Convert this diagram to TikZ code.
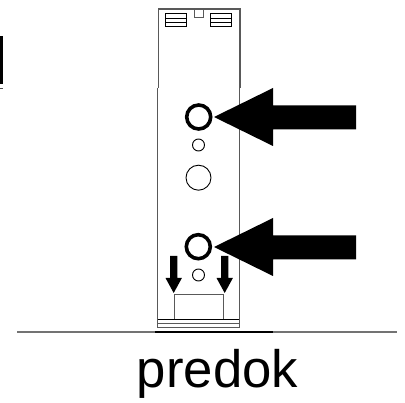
\documentclass[tikz,border=0pt]{standalone}
\usepackage{fontspec}
\setmainfont{Liberation Sans}
\tikzset{
    outline/.style={draw=black!65,line width=1.2pt},
    detail/.style={draw=black,line width=1pt},
    thinhole/.style={circle,draw=black,line width=0.9pt,fill=white,inner sep=0pt},
    thickhole/.style={circle,draw=black,line width=3.6pt,fill=white,inner sep=0pt},
    solidarrow/.style={fill=black,draw=none}
}
\begin{document}
\begin{tikzpicture}[x=1pt,y=-1pt]
        \useasboundingbox (0,0) rectangle (405,403);
        % upper part of the body
        \draw[outline] (158.5,88) -- (158.5,9) -- (240,9) -- (240,88);
        \draw[outline,line width=0.9pt] (194,10) -- (194,17) -- (203,17) -- (203,10);
        \foreach \x in {165.7,210} {
            \draw[detail] (\x,13.5) rectangle ++(21,13);
            \draw[detail,line width=0.7pt] (\x,18) -- ++(21,0) (\x,22) -- ++(21,0);
        }
        % lower part of the body
        \draw[outline] (157.7,88) -- (157.7,327.3) -- (239.3,327.3) -- (239.3,88);
        \draw[outline,line width=0.6pt] (157.7,323) -- (239.3,323);
        \draw[detail,line width=0.7pt] (157.7,319) -- (239.3,319);
        \draw[outline,line width=1pt] (174,319) -- (174,295) -- (223,295) -- (223,319);
        % holes
        \node[thickhole,minimum size=24pt] (upperring) at (198.7,117) {};
        \node[thinhole,minimum size=12pt] (uppersmall) at (198.5,145) {};
        \node[thinhole,minimum size=25pt] (middlehole) at (198.5,177.7) {};
        \node[thickhole,minimum size=24pt] (lowerring) at (198.3,246.7) {};
        \node[thinhole,minimum size=12pt] (lowersmall) at (198.5,275) {};
        % big arrows
        \foreach \y in {117,247} {
            \fill[solidarrow] (214,\y) -- (273,\y-29) -- (273,\y-11.5) -- (356,\y-11.5)
                -- (356,\y+12.5) -- (273,\y+12.5) -- (273,\y+29) -- cycle;
        }
        % small arrows
        \foreach \x in {173.7,224.7} {
            \fill[solidarrow] (\x,293) -- (\x-8.2,278) -- (\x-3.7,278) -- (\x-3.7,256)
                -- (\x+3.7,256) -- (\x+3.7,278) -- (\x+8.2,278) -- cycle;
        }
        % ground line
        \coordinate (groundleft) at (17,332);
        \coordinate (groundmid) at (155,332);
        \coordinate (groundend) at (273,332);
        \coordinate (groundright) at (397,332);
        \draw[black!55,line width=1.2pt] (groundleft) -- (groundmid);
        \draw[black,line width=1.5pt] (groundmid) -- (groundend);
        \draw[black!55,line width=1.2pt] (groundend) -- (groundright);
        % bar on the left edge
        \fill[black] (0,36) rectangle (3,84);
        \fill[black!70] (0,88.3) rectangle (3,89.5);
        \node[font=\fontsize{52.7pt}{60pt}\selectfont,inner sep=0pt,anchor=base] (predok) at (217.5,388) {predok};
    \end{tikzpicture}
\end{document}
